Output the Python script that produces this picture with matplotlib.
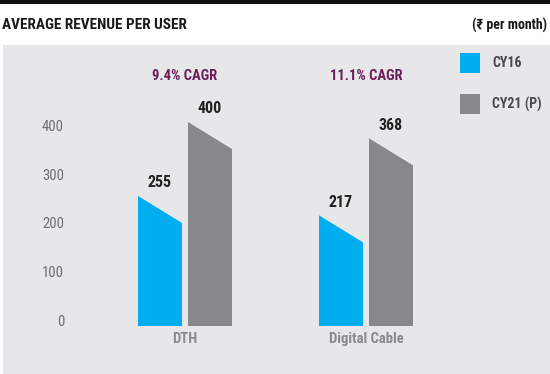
import matplotlib.pyplot as plt
from matplotlib.patches import Rectangle

# data
categories = ["DTH", "Digital Cable"]
series_names = ["CY16", "CY21 (P)"]
cy16 = [255, 217]
cy21 = [400, 368]
cagr_labels = ["9.4% CAGR", "11.1% CAGR"]
yticks = [0, 100, 200, 300, 400]

BLUE = "#00aeef"
GREY = "#87888c"
PANEL = "#e7e7e9"
PURPLE = "#6b1d5a"
FONT = ["Roboto Condensed", "Liberation Sans Narrow", "Roboto", "DejaVu Sans"]

plt.rcParams["font.family"] = FONT

W, H = 550, 374
fig = plt.figure(figsize=(W / 100, H / 100), dpi=100)
fig.patch.set_facecolor("white")


def fx(px):
    return px / W


def fy(py):
    return 1 - py / H


# top black rule
fig.add_artist(Rectangle((0, fy(4)), 1, 4 / H, transform=fig.transFigure,
                         color="#111111", lw=0))

fig.text(fx(2), fy(25), "AVERAGE REVENUE PER USER", fontsize=11, fontweight="bold",
         color="#1a1a1a", va="center", ha="left")
fig.text(fx(547), fy(25), "(\u20b9 per month)", fontsize=10, fontweight="bold",
         color="#1a1a1a", va="center", ha="right",
         family=["Roboto Condensed", "Roboto", "DejaVu Sans"])

# axes = grey panel, data coords for bars
ax = fig.add_axes([fx(3), 0, 1 - fx(3), fy(45)])
ax.set_facecolor(PANEL)
for s in ax.spines.values():
    s.set_visible(False)
ax.set_xticks([])
ax.set_yticks([])

px_per_cat = 181.0
x0_px = 185.0
ax.set_xlim((3 - x0_px) / px_per_cat, (550 - x0_px) / px_per_cat)
px_per_unit = 0.51
zero_px = 326
ax.set_ylim(-(374 - zero_px) / px_per_unit, (zero_px - 45) / px_per_unit)

bar_w = 44 / px_per_cat
offset = 25 / px_per_cat
drop = 53  # slanted top, in value units

for i, cat in enumerate(categories):
    for val, col, sgn in [(cy16[i], BLUE, -1), (cy21[i], GREY, 1)]:
        c = i + sgn * offset
        l, r = c - bar_w / 2, c + bar_w / 2
        ax.fill([l, r, r, l], [0, 0, val - drop, val], color=col, lw=0)
        ax.annotate(str(val), (c, val), xytext=(0, 4), textcoords="offset points",
                    ha="center", va="bottom", fontsize=11.5, fontweight="bold",
                    color="#222222")
    ax.text(i, -6 / px_per_unit, cat, ha="center", va="top", fontsize=10.5,
            fontweight="bold", color="#8a8a8d")
    ax.text(i, (zero_px - 76) / px_per_unit, cagr_labels[i], ha="center", va="center",
            fontsize=10.5, fontweight="bold", color=PURPLE)

tick_x = (64 - x0_px) / px_per_cat
for t in yticks:
    ax.text(tick_x, t * 0.956 + 8, str(t), ha="right", va="center", fontsize=10.5,
            color="#6e6e70")

# legend
for j, (name, col) in enumerate(zip(series_names, [BLUE, GREY])):
    top = 53 + j * 41
    fig.add_artist(Rectangle((fx(460), fy(top + 20)), fx(20), 20 / H,
                             transform=fig.transFigure, color=col, lw=0))
    fig.text(fx(492), fy(top + 10), name, fontsize=10, fontweight="bold",
             color="#4a4a4c", va="center", ha="left")

fig.savefig("out.png", dpi=100)
